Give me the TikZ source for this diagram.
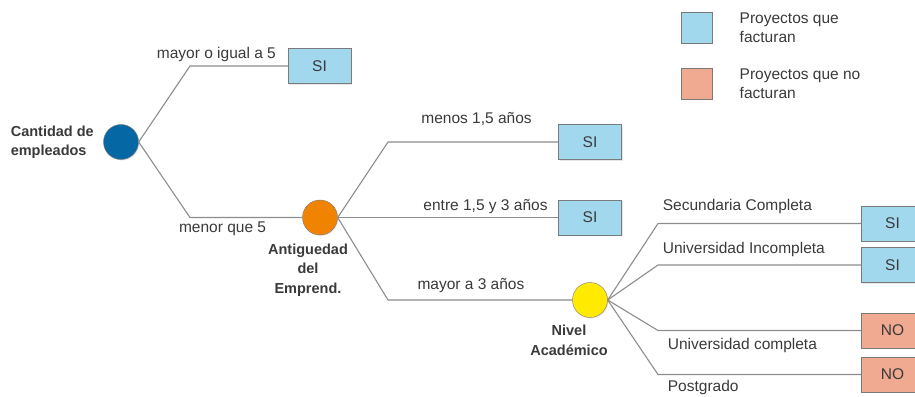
\documentclass[tikz,border=0pt]{standalone}
\usepackage{fontspec}
\setmainfont{Liberation Sans}
\usetikzlibrary{positioning,shadows}

\definecolor{txtgray}{HTML}{3A3A3A}
\definecolor{linegray}{HTML}{8C8C8C}
\definecolor{bordergray}{HTML}{7A7A7A}
\definecolor{empblue}{HTML}{0567A3}
\definecolor{antorange}{HTML}{F08300}
\definecolor{nivyellow}{HTML}{FFEA00}
\definecolor{sifill}{HTML}{A2D8EE}
\definecolor{nofill}{HTML}{F0AA92}

\begin{document}
\begin{tikzpicture}[x=1pt,y=-1pt,
    font=\fontsize{15.5}{19}\selectfont,
    every node/.style={text=txtgray},
    decision/.style={circle,draw=bordergray,minimum size=35pt,inner sep=0pt,
      drop shadow={shadow xshift=1pt,shadow yshift=-1pt,opacity=.2}},
    leaf/.style={draw=bordergray,minimum width=63pt,minimum height=35pt,inner sep=0pt,
      drop shadow={shadow xshift=1pt,shadow yshift=-1pt,opacity=.2}},
    sibox/.style={leaf,fill=sifill},
    nobox/.style={leaf,fill=nofill},
    legendbox/.style={leaf,minimum width=31pt,minimum height=31pt},
    branch/.style={draw=linegray,line width=1.1pt},
    caption/.style={font=\fontsize{14.5}{19.5}\selectfont\bfseries,align=center}]
  \useasboundingbox (0,0) rectangle (915,396);

  % decision nodes
  \node[decision,fill=empblue] (emp) at (121,142) {};
  \node[decision,fill=antorange] (ant) at (320,217.5) {};
  \node[decision,fill=nivyellow] (niv) at (590,300) {};

  \node[caption,align=left,left=6pt of emp] (empcap) {Cantidad de\\empleados};
  \node[caption,below=5pt of ant,xshift=-12pt] (antcap) {Antiguedad\\del\\Emprend.};
  \node[caption,below=4pt of niv,xshift=-21pt] (nivcap) {Nivel\\Académico};

  % leaves
  \node[sibox] (si1) at (319.5,66) {SI};
  \node[sibox] (si2) at (590,142) {SI};
  \node[sibox] (si3) at (590,217.5) {SI};
  \node[sibox] (si4) at (892.5,223.5) {SI};
  \node[sibox] (si5) at (892.5,265) {SI};
  \node[nobox] (no1) at (892.5,330.5) {NO};
  \node[nobox] (no2) at (892.5,374.5) {NO};

  % elbows
  \coordinate (e1) at (190,66);
  \coordinate (e2) at (190,217.5);
  \coordinate (e3) at (388,142);
  \coordinate (e4) at (388,300);
  \coordinate (n1) at (658,223.5);
  \coordinate (n2) at (658,265);
  \coordinate (n3) at (658,330.5);
  \coordinate (n4) at (658,374.5);

  % branches
  \draw[branch] (emp.east) -- (e1) -- node[above,pos=.27] (l1) {mayor o igual a 5} (si1);
  \draw[branch] (emp.east) -- (e2) -- node[below,pos=.29] (l2) {menor que 5} (ant);
  \draw[branch] (ant.east) -- (e3) -- node[above=13pt,pos=.52] (l3) {menos 1,5 años} (si2);
  \draw[branch] (ant.east) -- node[above,pos=.67] (l4) {entre 1,5 y 3 años} (si3);
  \draw[branch] (ant.east) -- (e4) -- node[above=3pt,pos=.45] (l5) {mayor a 3 años} (niv);
  \draw[branch] (niv.east) -- (n1) node[above right=6pt and 1pt] (l6) {Secundaria Completa} -- (si4);
  \draw[branch] (niv.east) -- (n2) node[above right=4pt and 1pt] (l7) {Universidad Incompleta} -- (si5);
  \draw[branch] (niv.east) -- (n3) node[below right=4pt and 6pt] (l8) {Universidad completa} -- (no1);
  \draw[branch] (niv.east) -- (n4) node[below right=2pt and 6pt] (l9) {Postgrado} -- (no2);

  % legend
  \node[legendbox,fill=sifill] (leg1) at (696.5,28) {};
  \node[legendbox,fill=nofill] (leg2) at (696.5,83.5) {};
  \node[align=left,right=24pt of leg1] (legtxt1) {Proyectos que\\facturan};
  \node[align=left,right=24pt of leg2] (legtxt2) {Proyectos que no\\facturan};
\end{tikzpicture}
\end{document}
